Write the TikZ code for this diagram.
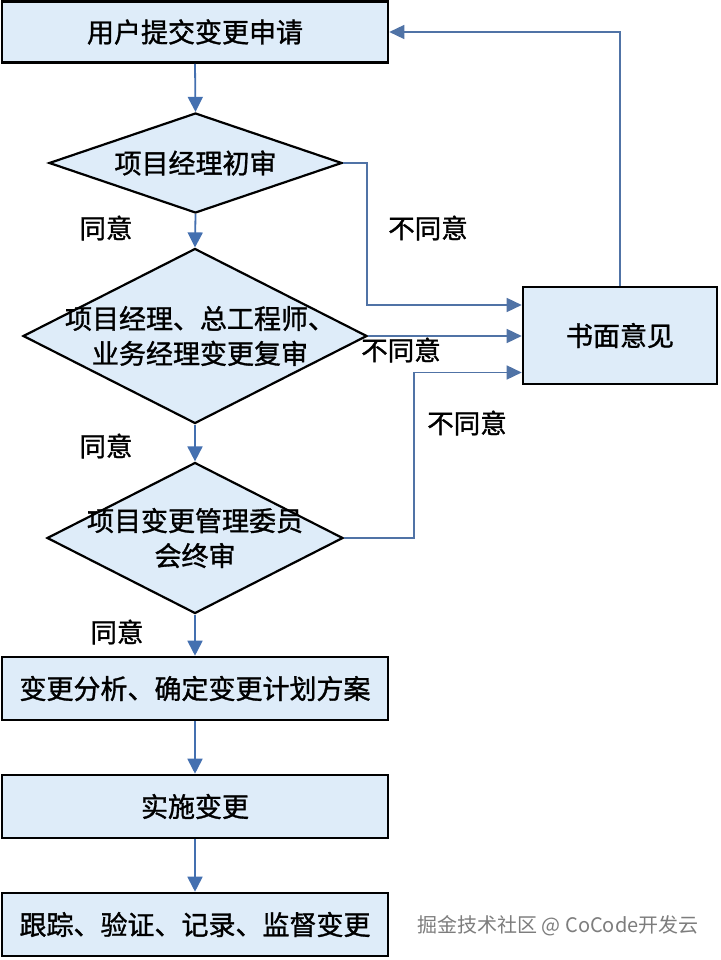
\documentclass[tikz,border=0pt]{standalone}
\usepackage{fontspec}
\setmainfont{Noto Sans CJK SC}[BoldFont={Noto Sans CJK SC},BoldFeatures={FakeBold=1.2}]
\usetikzlibrary{shapes.geometric,arrows.meta}
\definecolor{boxfill}{RGB}{222,236,249}
\definecolor{lineblue}{RGB}{68,112,176}
\definecolor{wmgray}{RGB}{125,125,125}
\tikzset{
  procbox/.style={draw=black,line width=2.6pt,fill=boxfill,rectangle,inner sep=0pt,
    minimum width=386pt,minimum height=61pt,font=\fontsize{27}{30}\selectfont\bfseries},
  decision/.style={draw=black,line width=2.2pt,fill=boxfill,diamond,inner sep=0pt},
  dtext/.style={font=\fontsize{27}{35}\selectfont\bfseries,align=center,inner sep=0pt},
  lbl/.style={font=\fontsize{26.5}{28}\selectfont\bfseries,inner sep=0pt},
  flow/.style={draw=lineblue,line width=1.8pt,-{Triangle[length=15pt,width=15pt]}},
  back/.style={draw=lineblue!80!gray,line width=1.5pt,-{Triangle[length=15pt,width=14pt]}},
}
\begin{document}
\begin{tikzpicture}[x=1pt,y=-1pt]
\useasboundingbox (0,0) rectangle (720,960);
\fill[white] (0,0) rectangle (720,960);
% process boxes
\node[procbox] (b1) at (195,32) {用户提交变更申请};
\node[procbox,minimum height=63pt] (b4) at (195,688.5) {变更分析、确定变更计划方案};
\node[procbox,minimum height=63pt] (b5) at (195,806.5) {实施变更};
\node[procbox,minimum height=63pt] (b6) at (195,924.5) {跟踪、验证、记录、监督变更};
\node[procbox,minimum width=194pt,minimum height=97pt] (sm) at (620,335.5) {书面意见};
% decisions
\node[decision,minimum width=293pt,minimum height=100pt] (d1) at (195.5,163) {};
\node[dtext] (t1) at (d1.center) {项目经理初审};
\node[decision,minimum width=344pt,minimum height=175pt] (d2) at (195,336) {};
\node[dtext] (t2) at ([xshift=5pt]d2.center) {项目经理、总工程师、\\业务经理变更复审};
\node[decision,minimum width=296pt,minimum height=151pt] (d3) at (195,538) {};
\node[dtext] (t3) at (d3.center) {项目变更管理委员\\会终审};
% main flow
\draw[flow] (b1.south) -- (d1.north);
\draw[flow] (d1.south) -- (d2.north);
\draw[flow] (d2.south) -- (d3.north);
\draw[flow] (d3.south) -- (b4.north);
\draw[flow] (b4.south) -- (b5.north);
\draw[flow] (b5.south) -- (b6.north);
% rejections
\coordinate (s1) at ([yshift=30.5pt]sm.west);
\coordinate (s3) at ([yshift=-37pt]sm.west);
\draw[back] (d1.east) -- ++(24,0) |- (s1);
\draw[back] (d2.east) -- (d2.east -| sm.west);
\draw[back] (d3.east) -- ++(70,0) |- (s3);
\draw[back] (sm.north) |- (b1.east);
% labels
\node[lbl] (y1) at (106,228) {同意};
\node[lbl] (y2) at (106,446) {同意};
\node[lbl] (y3) at (117,632) {同意};
\node[lbl] (n1) at (428,228) {不同意};
\node[lbl] (n2) at (401,350) {不同意};
\node[lbl] (n3) at (467,423) {不同意};
% watermark
\node[font=\fontsize{20}{24}\selectfont,text=wmgray,inner sep=0pt] (wm) at (558,926) {掘金技术社区 @ CoCode开发云};
\end{tikzpicture}
\end{document}
